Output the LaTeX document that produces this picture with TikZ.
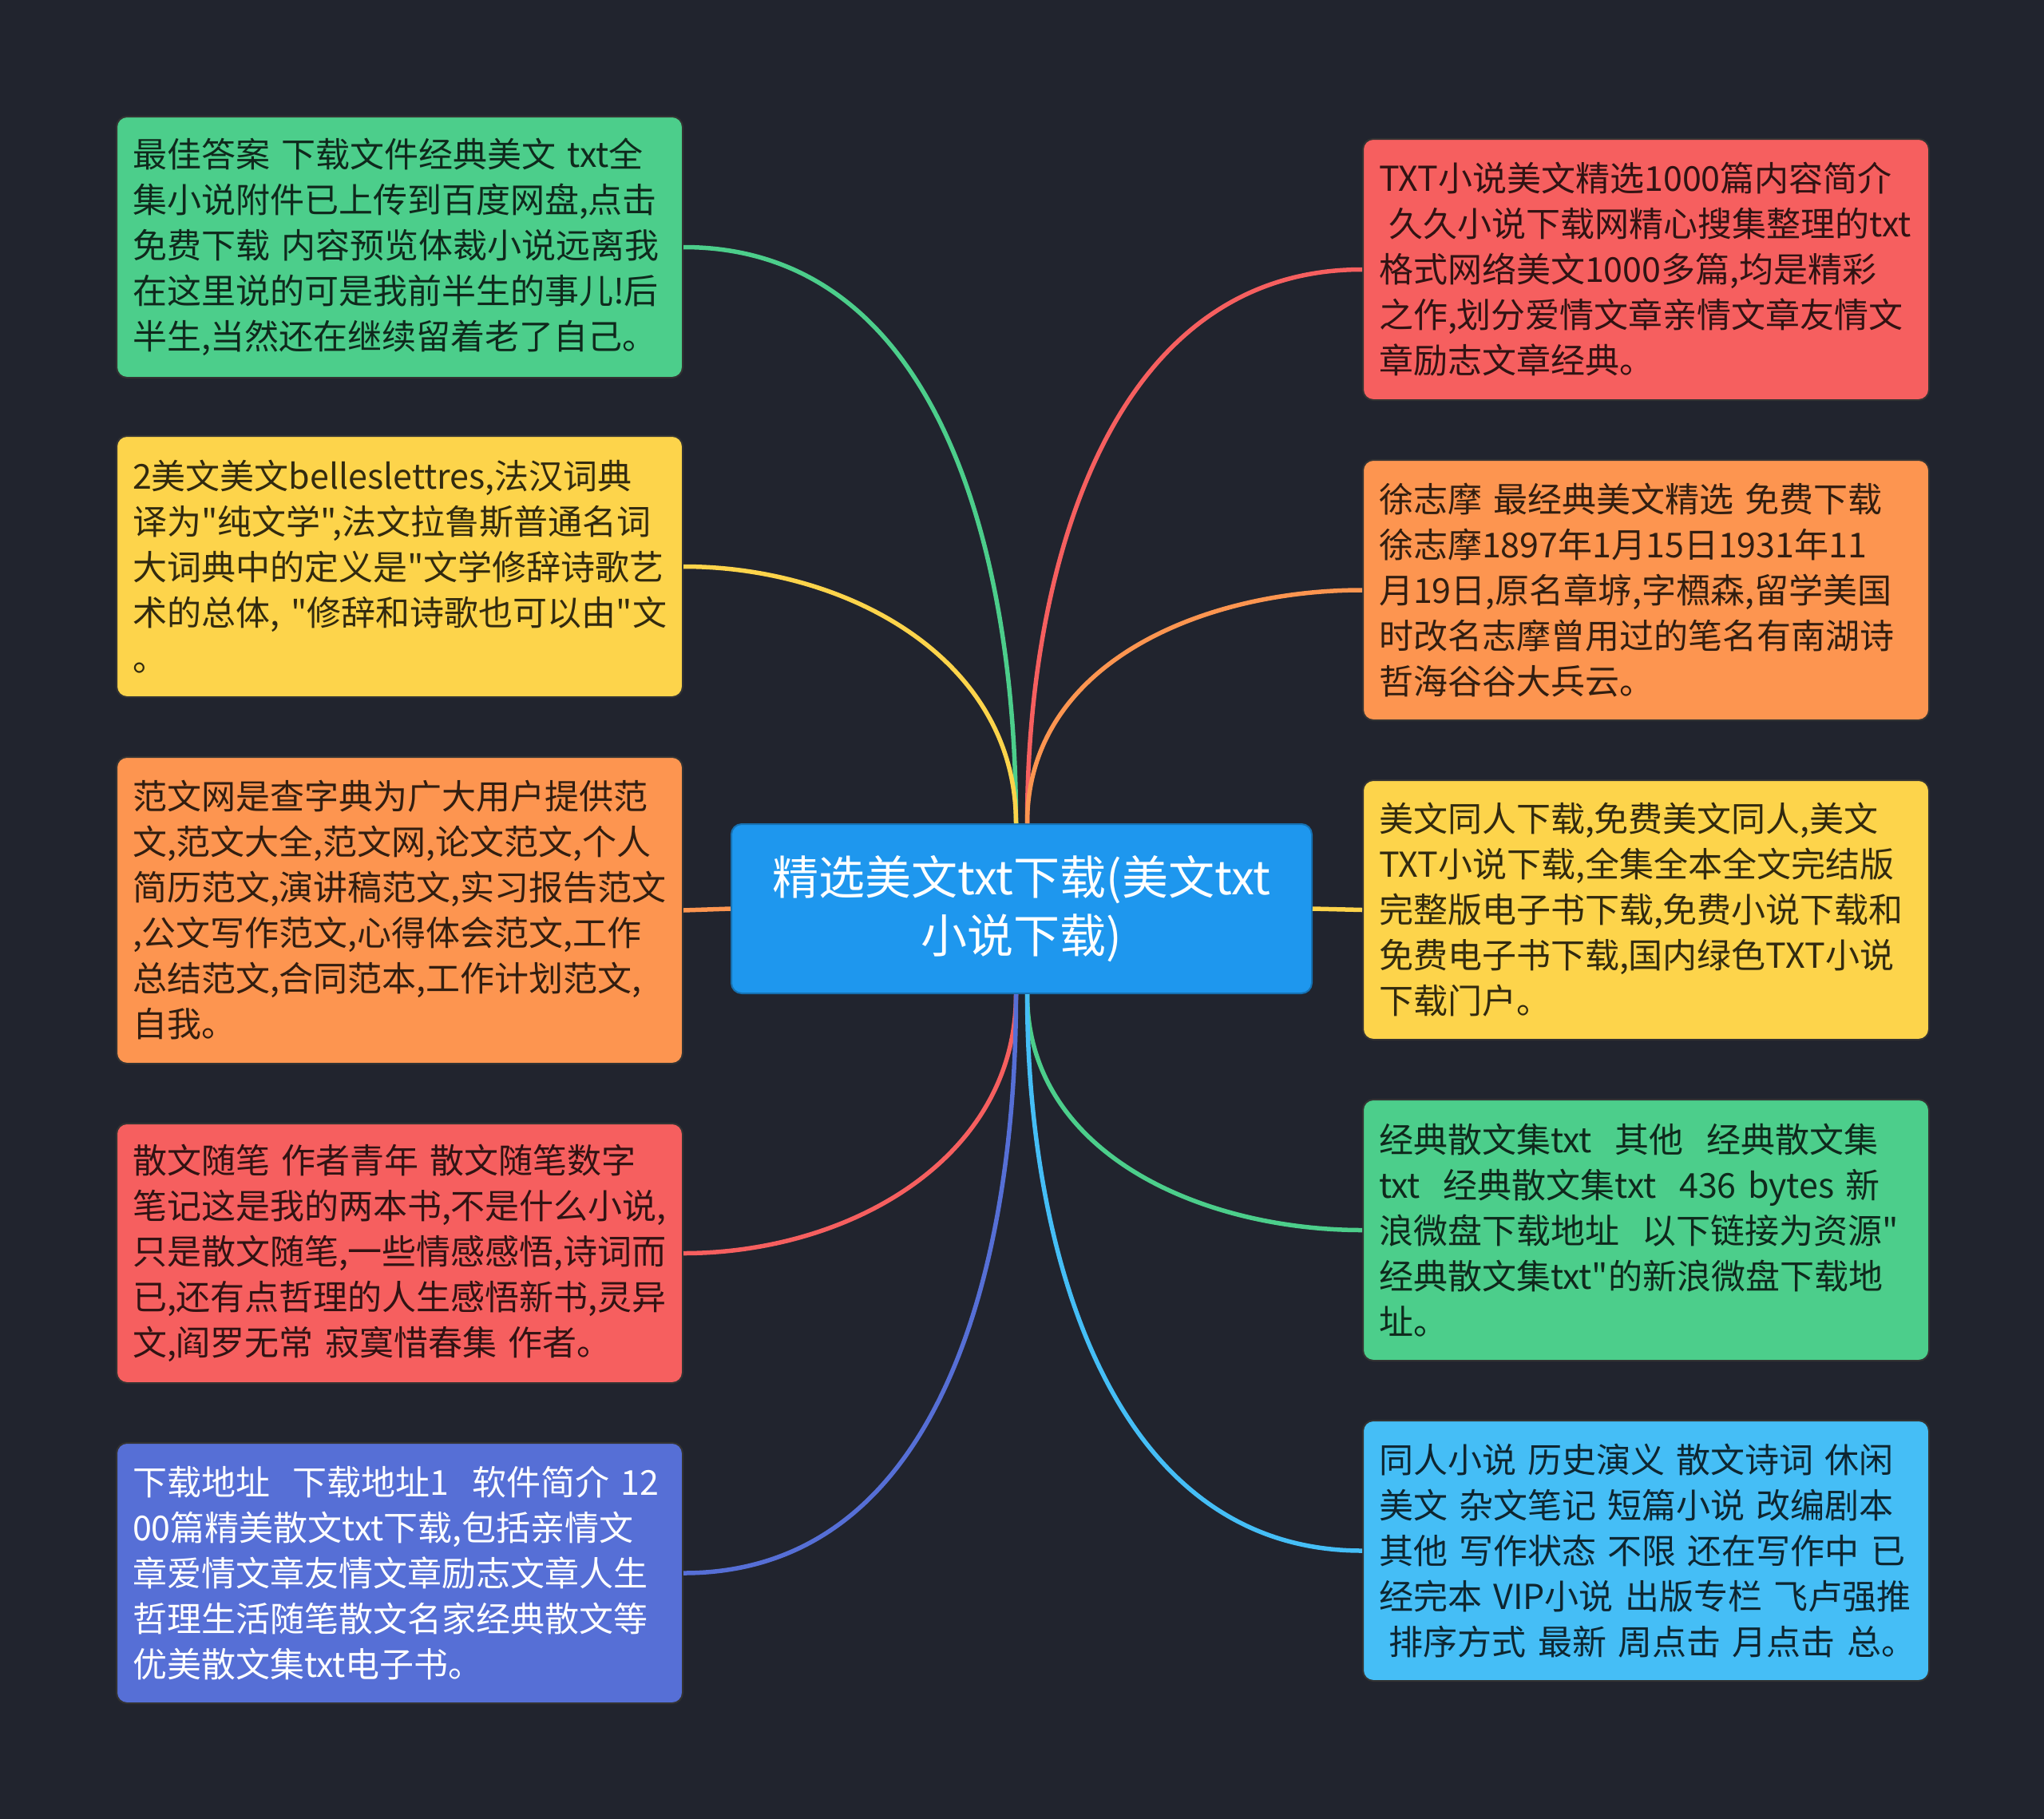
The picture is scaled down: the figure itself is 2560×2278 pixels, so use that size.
\documentclass[tikz,border=0pt]{standalone}
\usepackage{fontspec}
\newfontfamily\cjk{Noto Sans CJK SC}
\definecolor{bg}{HTML}{21242E}
\definecolor{cgreen}{HTML}{4CCE8B}
\definecolor{cyellow}{HTML}{FDD44B}
\definecolor{corange}{HTML}{FD9550}
\definecolor{cred}{HTML}{F65F5F}
\definecolor{cblue}{HTML}{566FD6}
\definecolor{ccyan}{HTML}{45BEF6}
\definecolor{ccenter}{HTML}{1E97EE}
\tikzset{
  leaf/.style={rectangle, rounded corners=13, draw=black!80, line width=2,
    text width=669, inner xsep=20, inner ysep=0, align=left,
    font=\cjk\fontsize{43}{57}\selectfont, anchor=north west},
  hub/.style={rectangle, rounded corners=13, draw=ccenter!75!black, line width=2,
    fill=ccenter, text=white, align=center, inner sep=0,
    font=\cjk\fontsize{58}{73}\selectfont},
  link/.style={line width=5.5}
}
\begin{document}
\begin{tikzpicture}[x=1pt,y=1pt]
\fill[bg] (0,0) rectangle (2560,-2278);
\useasboundingbox (0,0) rectangle (2560,-2278);

\node[hub, minimum width=727, minimum height=212] (c) at (1279.5,-1138)
  {精选美文txt下载(美文txt\\小说下载)};

% left
\node[leaf, fill=cgreen, text=cgreen!20!black, minimum height=327] (l1) at (145,-145)
 {最佳答案~下载文件经典美文~txt全\\集小说附件已上传到百度网盘,点击\\免费下载~内容预览体裁小说远离我\\在这里说的可是我前半生的事儿!后\\半生,当然还在继续留着老了自己。};
\node[leaf, fill=cyellow, text=cyellow!20!black, minimum height=327] (l2) at (145,-545)
 {2美文美文belleslettres,法汉词典\\译为"纯文学",法文拉鲁斯普通名词\\大词典中的定义是"文学修辞诗歌艺\\术的总体,~"修辞和诗歌也可以由"文\\。};
\node[leaf, fill=corange, text=corange!20!black, minimum height=384] (l3) at (145,-947)
 {范文网是查字典为广大用户提供范\\文,范文大全,范文网,论文范文,个人\\简历范文,演讲稿范文,实习报告范文\\,公文写作范文,心得体会范文,工作\\总结范文,合同范本,工作计划范文,\\自我。};
\node[leaf, fill=cred, text=cred!20!black, minimum height=325] (l4) at (145,-1406)
 {散文随笔~作者青年~散文随笔数字\\笔记这是我的两本书,不是什么小说,\\只是散文随笔,一些情感感悟,诗词而\\已,还有点哲理的人生感悟新书,灵异\\文,阎罗无常~寂寞惜春集~作者。};
\node[leaf, fill=cblue, text=white, minimum height=326] (l5) at (145,-1806)
 {下载地址~~下载地址1~~软件简介~12\\00篇精美散文txt下载,包括亲情文\\章爱情文章友情文章励志文章人生\\哲理生活随笔散文名家经典散文等\\优美散文集txt电子书。};

% right
\node[leaf, fill=cred, text=cred!20!black, minimum height=327] (r1) at (1706,-173)
 {TXT小说美文精选1000篇内容简介\\\hspace*{0.3em}久久小说下载网精心搜集整理的txt\\格式网络美文1000多篇,均是精彩\\之作,划分爱情文章亲情文章友情文\\章励志文章经典。};
\node[leaf, fill=corange, text=corange!20!black, minimum height=326] (r2) at (1706,-575)
 {徐志摩~最经典美文精选~免费下载\\徐志摩1897年1月15日1931年11\\月19日,原名章垿,字槱森,留学美国\\时改名志摩曾用过的笔名有南湖诗\\哲海谷谷大兵云。};
\node[leaf, fill=cyellow, text=cyellow!20!black, minimum height=325] (r3) at (1706,-976)
 {美文同人下载,免费美文同人,美文\\TXT小说下载,全集全本全文完结版\\完整版电子书下载,免费小说下载和\\免费电子书下载,国内绿色TXT小说\\下载门户。};
\node[leaf, fill=cgreen, text=cgreen!20!black, minimum height=327] (r4) at (1706,-1376)
 {经典散文集txt~~其他~~经典散文集\\txt~~经典散文集txt~~436~bytes~新\\浪微盘下载地址~~以下链接为资源"\\经典散文集txt"的新浪微盘下载地\\址。};
\node[leaf, fill=ccyan, text=ccyan!20!black, minimum height=326] (r5) at (1706,-1778)
 {同人小说~历史演义~散文诗词~休闲\\美文~杂文笔记~短篇小说~改编剧本\\其他~写作状态~不限~还在写作中~已\\经完本~VIP小说~出版专栏~飞卢强推\\\hspace*{0.3em}排序方式~最新~周点击~月点击~总。};

% connectors
\draw[link, cgreen]  ([xshift=-7]c.north) to[out=90, in=0] (l1.east);
\draw[link, cyellow] ([xshift=-7]c.north) to[out=90, in=0] (l2.east);
\draw[link, corange] (c.west) -- (l3.east);
\draw[link, cred]    ([xshift=-7]c.south) to[out=-90, in=0] (l4.east);
\draw[link, cblue]   ([xshift=-7]c.south) to[out=-90, in=0] (l5.east);
\draw[link, cred]    ([xshift=7]c.north) to[out=90, in=180] (r1.west);
\draw[link, corange] ([xshift=7]c.north) to[out=90, in=180] (r2.west);
\draw[link, cyellow] (c.east) -- (r3.west);
\draw[link, cgreen]  ([xshift=7]c.south) to[out=-90, in=180] (r4.west);
\draw[link, ccyan]   ([xshift=7]c.south) to[out=-90, in=180] (r5.west);
\end{tikzpicture}
\end{document}
